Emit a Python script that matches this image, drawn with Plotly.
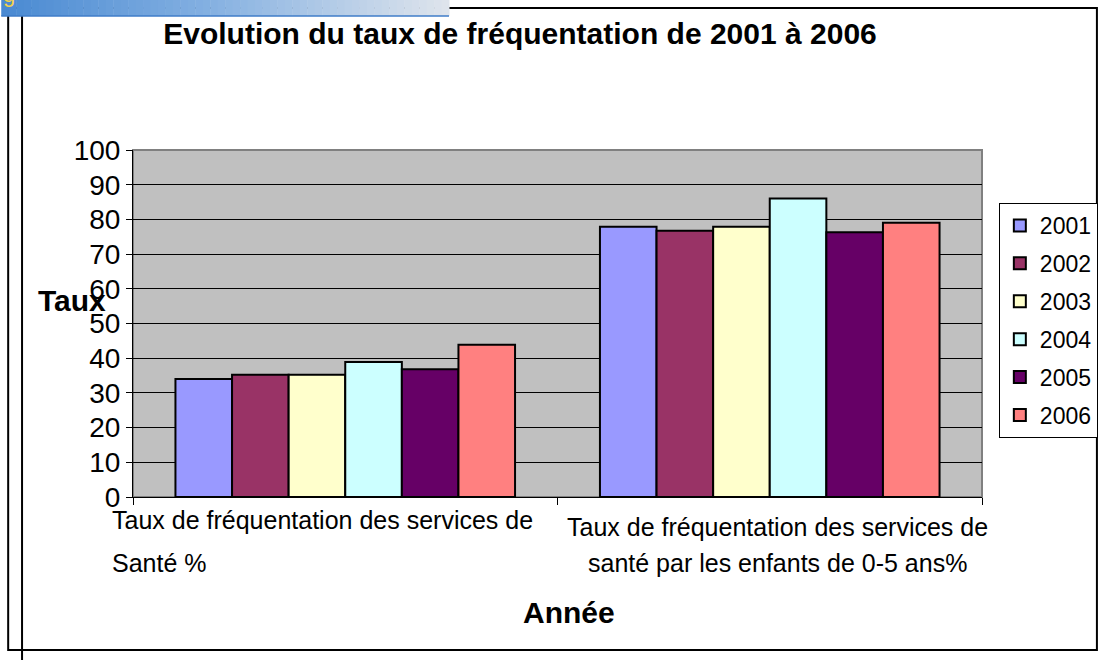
import plotly.graph_objects as go

# ---------------- data ----------------
years = ["2001", "2002", "2003", "2004", "2005", "2006"]
categories = [
    "Taux de fréquentation des services de Santé %",
    "Taux de fréquentation des services de santé par les enfants de 0-5 ans%",
]
category_lines = [
    ["Taux de fréquentation des services de", "Santé %"],
    ["Taux de fréquentation des services de", "santé par les enfants de 0-5 ans%"],
]
v2001 = [34.0, 77.9]
v2002 = [35.2, 76.7]
v2003 = [35.2, 77.9]
v2004 = [38.9, 86.0]
v2005 = [36.8, 76.3]
v2006 = [43.9, 79.0]
series = [v2001, v2002, v2003, v2004, v2005, v2006]
y_ticks = [0, 10, 20, 30, 40, 50, 60, 70, 80, 90, 100]

title_text = "Evolution du taux de fréquentation de 2001 à 2006"
y_title = "Taux"
x_title = "Année"

# ---------------- style ----------------
colors = ["#9999FF", "#993366", "#FFFFCC", "#CCFFFF", "#660066", "#FF8080"]
FONT = "Arial, 'Liberation Sans', sans-serif"
W, H = 1110, 660
L, R, T, B = 133, 990, 150, 497


def px(x):
    return (x - L) / (R - L)


def py(y):
    return (B - y) / (B - T)


fig = go.Figure()
for name, vals, col in zip(years, series, colors):
    fig.add_trace(go.Bar(
        name=name, x=categories, y=vals, legendgroup=name,
        marker=dict(color=col, line=dict(color="black", width=2)),
    ))

shapes = []
# plot-area border
shapes.append(dict(type="rect", xref="paper", yref="paper", x0=0, x1=1, y0=0, y1=1,
                   line=dict(color="#808080", width=2), layer="below"))
# outer chart frame
shapes.append(dict(type="rect", xref="paper", yref="paper", x0=px(7), x1=px(1106),
                   y0=py(650), y1=py(8), line=dict(color="black", width=2)))
shapes.append(dict(type="line", xref="paper", yref="paper", x0=px(21), x1=px(21),
                   y0=py(662), y1=py(8), line=dict(color="black", width=2)))

# banner gradient at top-left
stops = [(0.0, (74, 138, 210)), (0.45, (130, 175, 225)), (1.0, (222, 228, 236))]


def interp(t):
    for (t0, c0), (t1, c1) in zip(stops[:-1], stops[1:]):
        if t0 <= t <= t1:
            f = (t - t0) / (t1 - t0)
            return "rgb(%d,%d,%d)" % tuple(round(a + (b - a) * f) for a, b in zip(c0, c1))
    return "rgb(%d,%d,%d)" % stops[-1][1]


n = 60
bw = 452 / n
for i in range(n):
    shapes.append(dict(type="rect", xref="paper", yref="paper",
                       x0=px(i * bw), x1=px((i + 1) * bw + 0.5),
                       y0=py(16), y1=py(-2), line=dict(width=0),
                       fillcolor=interp(i / (n - 1))))
shapes.append(dict(type="line", xref="paper", yref="paper", x0=px(0), x1=px(452),
                   y0=py(16), y1=py(16), line=dict(color="#3f7cc8", width=1.5)))

annotations = []
# category labels
anchor_cfg = [("left", -235, [520, 563]), ("center", 8, [527, 563])]
for cat, lines, (xa, xs, ys) in zip(categories, category_lines, anchor_cfg):
    for txt, yy in zip(lines, ys):
        annotations.append(dict(text=txt, x=cat, xref="x", xanchor=xa, xshift=xs,
                                y=py(yy), yref="paper", yanchor="middle",
                                showarrow=False, font=dict(family=FONT, size=25, color="black")))
# axis titles
annotations.append(dict(text="<b>%s</b>" % y_title, x=px(35), xref="paper", xanchor="left",
                        y=py(300), yref="paper", yanchor="middle", showarrow=False,
                        font=dict(family=FONT, size=30, color="black")))
annotations.append(dict(text="<b>%s</b>" % x_title, x=px(573), xref="paper", xanchor="center",
                        y=py(612), yref="paper", yanchor="middle", showarrow=False,
                        font=dict(family=FONT, size=30, color="black")))
# banner text fragment
annotations.append(dict(text="g", x=px(0), xref="paper", xanchor="left",
                        y=py(-6), yref="paper", yanchor="middle", showarrow=False,
                        font=dict(family=FONT, size=22, color="#f3d34a")))

fig.update_layout(
    width=W, height=H,
    margin=dict(l=L, r=W - R, t=T, b=H - B, pad=0),
    paper_bgcolor="white", plot_bgcolor="#C0C0C0",
    font=dict(family=FONT, color="black"),
    title=dict(text="<b>%s</b>" % title_text, x=520 / W, xref="container", xanchor="center",
               y=1 - 33 / H, yref="container", yanchor="middle",
               font=dict(family=FONT, size=30, color="black")),
    barmode="group", bargap=0.2, bargroupgap=0,
    showlegend=True,
    legend=dict(x=px(1007), y=py(203), xanchor="left", yanchor="top",
                bgcolor="white", bordercolor="black", borderwidth=1,
                font=dict(family=FONT, size=23, color="black"),
                traceorder="grouped", tracegroupgap=5),
    shapes=shapes, annotations=annotations,
)
fig.update_xaxes(range=[-0.5, 1.5], autorange=False, showticklabels=False, showline=True,
                 linecolor="black", linewidth=1,
                 ticks="outside", tickson="boundaries", ticklen=7, tickcolor="black",
                 showgrid=False, zeroline=False)
fig.update_yaxes(range=[0, 100], tickvals=y_ticks, showline=True, linecolor="black", linewidth=1,
                 ticks="outside", ticklen=6, tickcolor="black",
                 showgrid=True, gridcolor="black", gridwidth=1, zeroline=False,
                 tickfont=dict(family=FONT, size=28, color="black"))

fig.write_html("out.html", config={"displayModeBar": False},
               post_script="document.body.style.margin='0px';")
